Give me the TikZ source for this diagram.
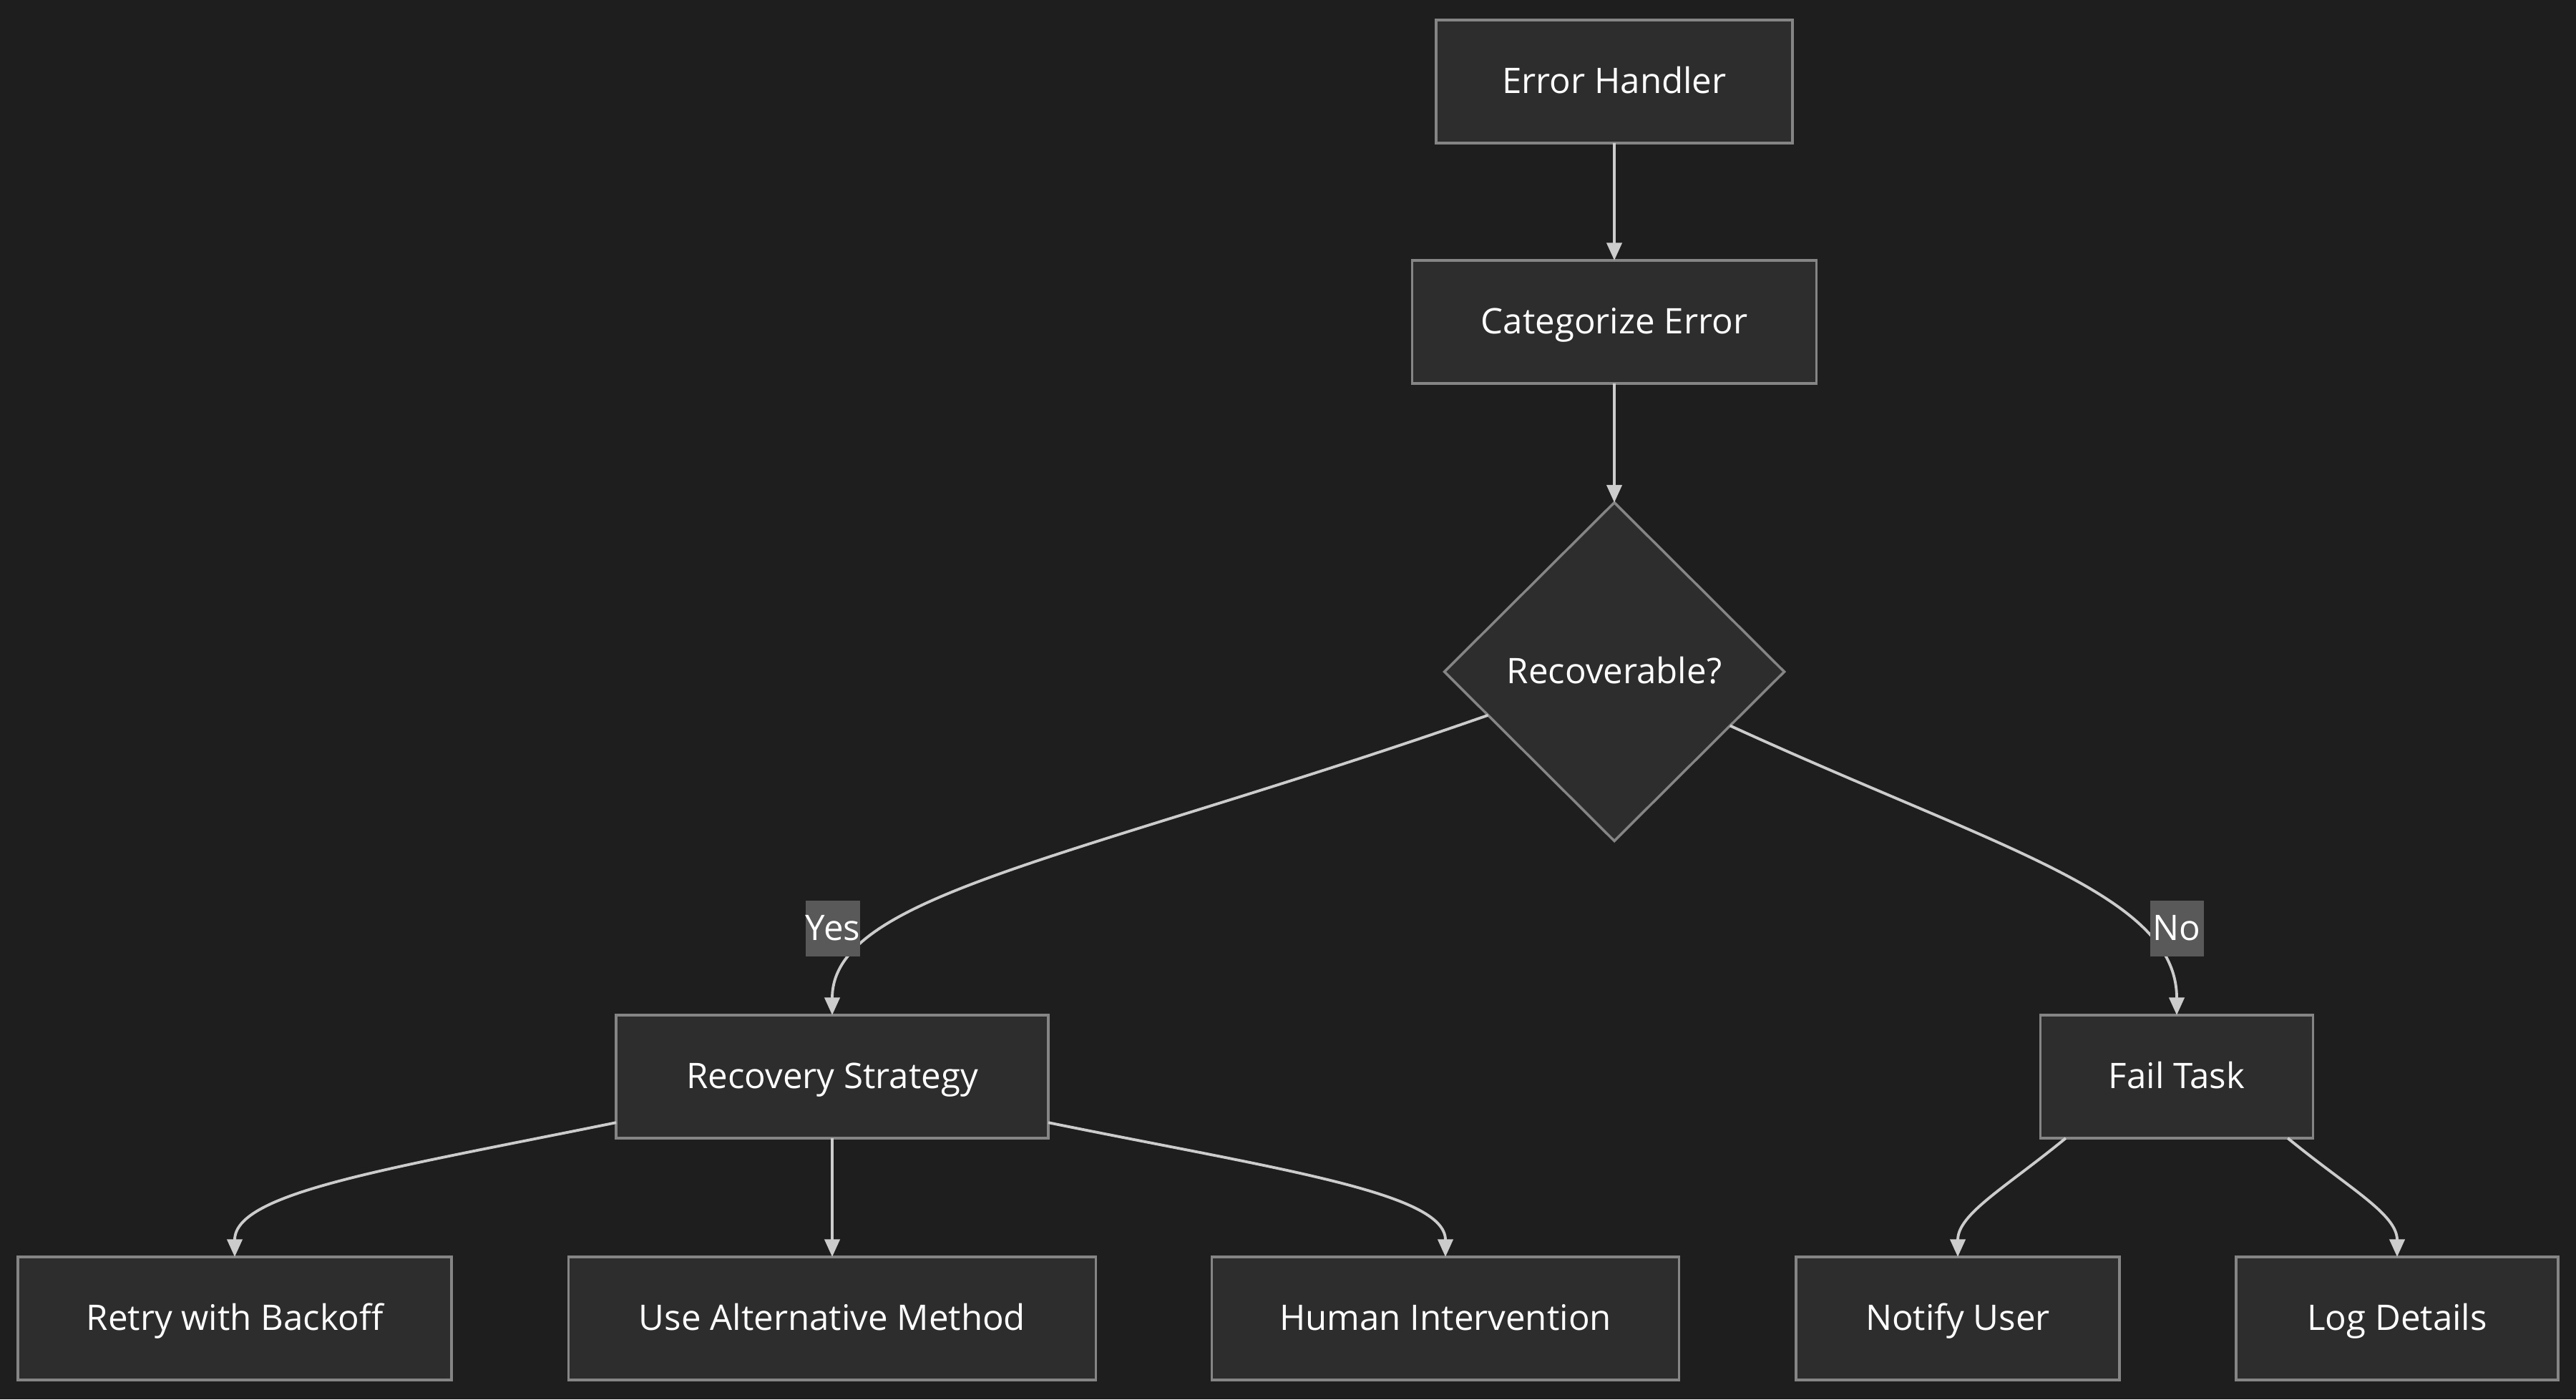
\documentclass[tikz,border=0pt]{standalone}
\usepackage{fontspec}
\setmainfont{Open Sans}
\usetikzlibrary{arrows.meta,shapes.geometric}
\definecolor{bgc}{HTML}{1E1E1E}
\definecolor{boxfill}{HTML}{2D2D2D}
\definecolor{boxline}{HTML}{858585}
\definecolor{linkc}{HTML}{CCCCCC}
\definecolor{tagfill}{HTML}{595959}
\begin{document}
\begin{tikzpicture}[>={Triangle[length=7pt,width=6pt]},
  box/.style={draw=boxline, fill=boxfill, line width=1pt, text=white, minimum height=1.72cm, outer sep=0pt, inner sep=0pt, text height=1em, text depth=0.05em, font=\fontsize{14}{16}\selectfont},
  decide/.style={diamond, draw=boxline, fill=boxfill, line width=1pt, text=white, minimum width=4.75cm, minimum height=4.73cm, outer sep=0pt, inner sep=0pt, text height=1em, text depth=0.05em, font=\fontsize{14}{16}\selectfont},
  link/.style={->, draw=linkc, line width=1.1pt},
  tag/.style={fill=tagfill, text=white, inner sep=0pt, minimum width=0.75cm, minimum height=0.78cm, text height=1em, text depth=0.05em, font=\fontsize{14}{16}\selectfont}]
\fill[bgc](0,0) rectangle (36,19.56);
\useasboundingbox (0,0) rectangle (36,19.56);

\node[box, minimum width=4.98cm] (eh) at (22.56,18.42) {Error Handler};
\node[box, minimum width=5.65cm] (ce) at (22.56,15.06) {Categorize Error};
\node[decide] (rec) at (22.56,10.17) {Recoverable?};
\node[box, minimum width=6.04cm] (rs) at (11.63,4.51) {Recovery Strategy};
\node[box, minimum width=3.81cm] (ft) at (30.42,4.51) {Fail Task};
\node[box, minimum width=6.06cm] (retry) at (3.28,1.13) {Retry with Backoff};
\node[box, minimum width=7.37cm] (alt) at (11.63,1.13) {Use Alternative Method};
\node[box, minimum width=6.53cm] (human) at (20.20,1.13) {Human Intervention};
\node[box, minimum width=4.52cm] (notify) at (27.36,1.13) {Notify User};
\node[box, minimum width=4.50cm] (log) at (33.50,1.13) {Log Details};

\draw[link](eh.south)--(ce.north);
\draw[link](ce.south)--(rec.north);
\draw[link](rec.199) .. controls +(-5.78,-2.02) and +(0,1.69) .. (rs.north);
\draw[link](rec.335) .. controls +(3.78,-1.73) and +(0,1.69) .. (ft.north);
\draw[link](rs.192) .. controls +(-3.2,-0.65) and +(0,0.9) .. (retry.north);
\draw[link](rs.south)--(alt.north);
\draw[link](rs.348) .. controls +(3.2,-0.65) and +(0,0.9) .. (human.north);
\draw[link](ft.209) .. controls +(-0.84,-0.69) and +(0,0.6) .. (notify.north);
\draw[link](ft.331) .. controls +(0.84,-0.69) and +(0,0.6) .. (log.north);

\node[tag] (yes) at (11.64,6.58) {Yes};
\node[tag] (no) at (30.42,6.58) {No};

\end{tikzpicture}
\end{document}
